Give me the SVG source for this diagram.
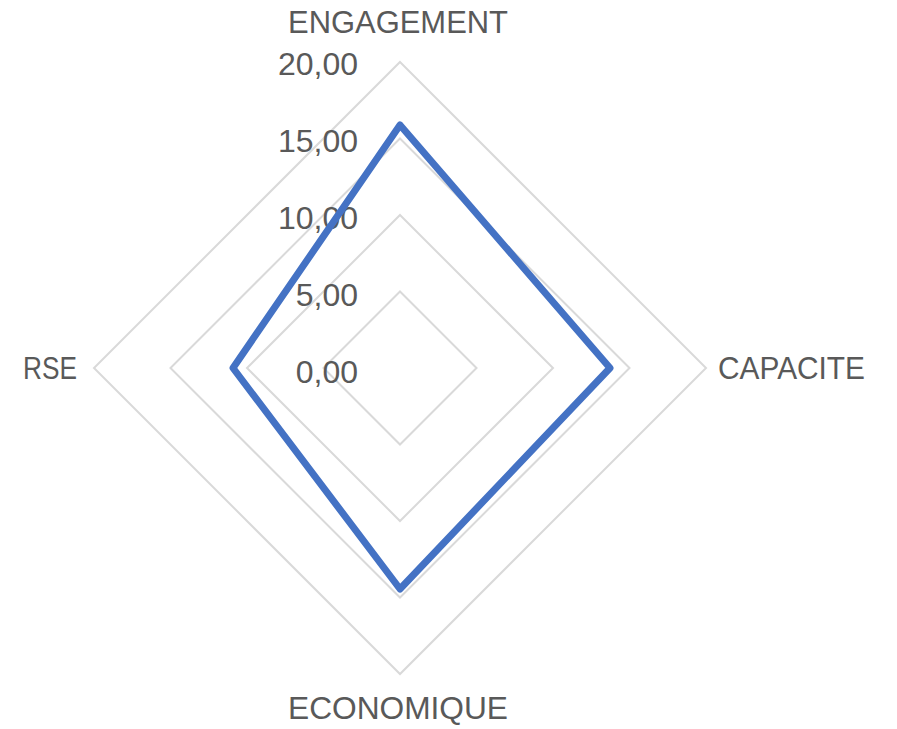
<svg xmlns="http://www.w3.org/2000/svg" width="897" height="729" viewBox="0 0 897 729">
<style>
.grid{fill:none;stroke:#d9d9d9;stroke-width:2}
.t{font-family:"Liberation Sans",Arial,sans-serif;font-size:32px;fill:#595959}
.n{text-anchor:end}
.series{fill:none;stroke:#4472c4;stroke-width:7;stroke-linejoin:round}
</style>
<rect width="897" height="729" fill="#ffffff"/>
<g id="grid">
<polygon class="grid" points="400,291.5 476.5,368 400,444.5 323.5,368"/>
<polygon class="grid" points="400,215 553,368 400,521 247,368"/>
<polygon class="grid" points="400,138.5 629.5,368 400,597.5 170.5,368"/>
<polygon class="grid" points="400,62 706,368 400,674 94,368"/>
</g>
<g id="scale">
<text class="t n" x="358" y="75">20,00</text>
<text class="t n" x="358" y="152">15,00</text>
<text class="t n" x="358" y="229">10,00</text>
<text class="t n" x="358" y="306">5,00</text>
<text class="t n" x="358" y="383">0,00</text>
</g>
<g id="series">
<polygon class="series" points="400,125 610,368 400,589 233,368"/>
</g>
<g id="labels">
<text class="t" x="288" y="33" textLength="220" lengthAdjust="spacingAndGlyphs">ENGAGEMENT</text>
<text class="t" x="718" y="379" textLength="147" lengthAdjust="spacingAndGlyphs">CAPACITE</text>
<text class="t" x="288" y="719" textLength="220" lengthAdjust="spacingAndGlyphs">ECONOMIQUE</text>
<text class="t" x="23" y="379" textLength="54" lengthAdjust="spacingAndGlyphs">RSE</text>
</g>
</svg>
